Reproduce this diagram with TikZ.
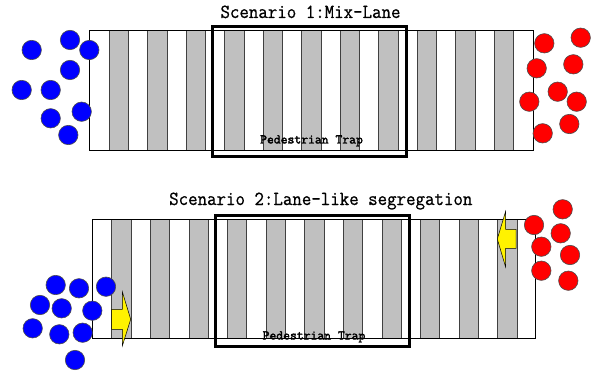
\documentclass[tikz,border=0pt]{standalone}
\usepackage{fontspec}
\newfontfamily\titlemono[FakeBold=0.8]{Latin Modern Mono}
\newfontfamily\trapmono[FakeBold=2.2]{Latin Modern Mono}
\definecolor{stripegray}{RGB}{192,192,192}
\begin{document}
\begin{tikzpicture}[x=1pt,y=-1pt,
		stripe/.style={fill=stripegray, draw=black!75, line width=0.6pt},
		road/.style={draw=black, line width=0.7pt},
		trapbox/.style={draw=black, line width=3pt},
		walker/.style={draw=black!70, line width=0.6pt},
		flowarrow/.style={fill=yellow, draw=black, line width=0.5pt},
		titlefont/.style={font=\fontsize{20}{22}\selectfont\titlemono, inner sep=0pt, anchor=base},
		trapfont/.style={font=\fontsize{13.3}{15}\selectfont\trapmono, inner sep=0pt, anchor=base}]
		\useasboundingbox (0,0) rectangle (594,374);
		% scenario 1
		\foreach \i in {0,...,10}
			\draw[stripe] ({109+38.5*\i},30) rectangle ({128.3+38.5*\i},150);
		\draw[road] (89,30) rectangle (533,150);
		\draw[trapbox] (212,27) rectangle (406,157);
		\node[titlefont] (title1) at (310.5,18) {\scalebox{0.92}[1]{Scenario 1:Mix-Lane}};
		\node[trapfont] (trap1) at (311.5,143.5) {Pedestrian Trap};
		\foreach \x/\y in {31.7/50, 70/40, 89.3/50, 70/70, 21.7/90, 50.7/90, 81.7/111.7, 50.7/118.3, 68.3/135}
			\filldraw[walker, fill=blue] (\x,\y) circle (9.7);
		\foreach \x/\y in {544.3/43.3, 580.7/37.7, 536.7/68.3, 573.3/64.3, 557.7/91.7, 529.3/101.7, 576.7/101.7, 569.3/124, 542.7/133.3}
			\filldraw[walker, fill=red] (\x,\y) circle (9.7);
		% scenario 2
		\foreach \i in {0,...,10}
			\draw[stripe] ({111.7+38.6*\i},219.3) rectangle ({130.9+38.6*\i},338.3);
		\draw[road] (92.3,219.3) rectangle (535.7,338.3);
		\draw[trapbox] (215,215) rectangle (409,346.7);
		\node[titlefont] (title2) at (320.8,205) {\scalebox{0.92}[1]{Scenario 2:Lane-like segregation}};
		\node[trapfont] (trap2) at (314,339.5) {Pedestrian Trap};
		\foreach \x/\y in {55.7/285, 79/288.3, 106/286.7, 40/305, 61.7/308.3, 92.3/310.7, 32.7/328.3, 59.3/334.3, 82.7/332.7, 75/360}
			\filldraw[walker, fill=blue] (\x,\y) circle (9.7);
		\foreach \x/\y in {562.7/209.3, 534/225, 560.7/233.3, 541.3/246.7, 570/255, 541.3/270.7, 568.3/280.7}
			\filldraw[walker, fill=red] (\x,\y) circle (9.7);
		\draw[flowarrow] (111.7,309.3) -- (122.3,309.3) -- (122.3,291.7) -- (130.7,319.3) -- (122.3,346) -- (122.3,329.3) -- (111.7,329.3) -- cycle;
		\draw[flowarrow] (516,229.3) -- (505.5,229.3) -- (505.5,211.7) -- (497.3,239) -- (505.5,266.7) -- (505.5,248.3) -- (516,248.3) -- cycle;
\end{tikzpicture}
\end{document}
